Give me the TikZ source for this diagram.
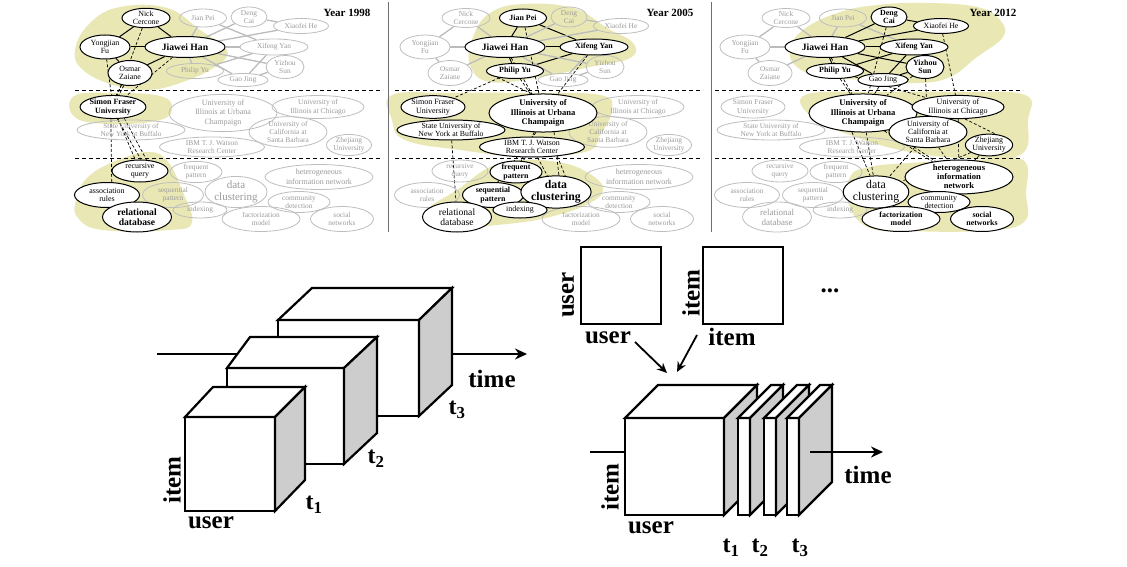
\documentclass[tikz,border=0pt]{standalone}
\usepackage{fontspec}
\setmainfont{Liberation Serif}
\usetikzlibrary{shapes.geometric,arrows.meta}
\pgfdeclarelayer{bg}\pgfdeclarelayer{edges}\pgfdeclarelayer{gray}\pgfdeclarelayer{top}
\pgfsetlayers{main,bg,edges,gray,top}
\definecolor{hl}{RGB}{233,232,180}
\definecolor{gline}{RGB}{190,190,190}
\definecolor{gtxt}{RGB}{155,155,155}
\definecolor{gedgec}{RGB}{188,188,188}
\definecolor{sidec}{RGB}{205,205,205}
\definecolor{sepc}{RGB}{110,110,110}
\def\fs{7.4}\def\fsb{8.2}
\def\pfx{a-}
\def\hintext{heterogeneous\\information network}
\tikzset{
  sz/.code args={#1/#2}{\def\fs{#1}\def\fsb{#2}},
  hinsz/.style={sz=8/10},
  gn/.style={ellipse, inner sep=0pt, align=center, draw=gline, line width=0.8pt, text=gtxt, font=\fontsize{\fs}{\fsb}\selectfont},
  an/.style={ellipse, inner sep=0pt, align=center, draw=black, line width=1pt, fill=white, text=black,
     font=\pgfmathsetmacro\fsx{\fs*1.07}\fontsize{\fsx}{\fsb}\selectfont},
  ab/.style={an, font=\pgfmathsetmacro\fsx{\fs*1.07}\bfseries\fontsize{\fsx}{\fsb}\selectfont},
  gedge/.style={draw=gedgec, line width=1.3pt},
  bedge/.style={draw=black, line width=1pt},
  dedge/.style={draw=black, line width=0.7pt, dash pattern=on 3pt off 2pt},
  sepdash/.style={draw=black, line width=1pt, dash pattern=on 4pt off 3pt},
  blob/.style={fill=hl, draw=none},
  yearlab/.style={font=\bfseries\fontsize{11}{12}\selectfont},
  cubeline/.style={line width=2.2pt, line join=miter, draw=black},
  tarrow/.style={line width=2pt, -{Stealth[length=12pt,width=11pt]}},
  tline/.style={line width=2pt},
  marrow/.style={line width=1.8pt, -{Stealth[length=10pt,width=9pt]}},
  bigl/.style={font=\bfseries\fontsize{25}{28}\selectfont, inner sep=0pt},
  tlab/.style={font=\bfseries\fontsize{24}{26}\selectfont, inner sep=0pt},
  sq/.style={draw, line width=2pt, minimum width=80pt, minimum height=77pt, inner sep=0pt, fill=white},
}
\newcommand\act[2]{\expandafter\def\csname actX#1\endcsname{#2}}
\newcommand\blk[1]{\expandafter\def\csname edX#1\endcsname{1}}
\newcommand\ND[4]{%
  \expandafter\ifx\csname actX#1\endcsname\relax
    \def\curlayer{gray}\def\curstyle{gn}%
  \else
    \def\curlayer{top}\edef\curstyle{\csname actX#1\endcsname}%
  \fi
  \tikzset{curst/.style/.expand once=\curstyle}%
  \begin{pgfonlayer}{\curlayer}\node[curst,#2] (\pfx#1) at #3 {#4};\end{pgfonlayer}}
\newcommand\E[3]{%
  \expandafter\ifx\csname edX#1\endcsname\relax\def\curst{gedge}\else\def\curst{bedge}\fi
  \tikzset{cure/.style/.expand once=\curst}%
  \draw[cure] (\pfx#2) -- (\pfx#3);}
\newcommand\panel{%
  \ND{nc}{minimum width=48pt,minimum height=19pt}{(146,18)}{Nick\\Cercone}
  \ND{jp}{minimum width=47pt,minimum height=18pt}{(203,18)}{Jian Pei}
  \ND{dc}{minimum width=36pt,minimum height=20pt}{(249,17)}{Deng\\Cai}
  \ND{xh}{minimum width=55pt,minimum height=15pt}{(301,26)}{Xiaofei He}
  \ND{yf}{minimum width=50pt,minimum height=24pt}{(105,47)}{Yongjian\\Fu}
  \ND{jh}{sz=9/10,minimum width=80pt,minimum height=21pt}{(185,47)}{Jiawei Han}
  \ND{xy}{minimum width=68pt,minimum height=16pt}{(274,47)}{Xifeng Yan}
  \ND{oz}{minimum width=44pt,minimum height=25pt}{(130,73)}{Osmar\\Zaiane}
  \ND{py}{minimum width=57pt,minimum height=15pt}{(195,71)}{Philip Yu}
  \ND{ys}{minimum width=38pt,minimum height=23pt}{(285,67)}{Yizhou\\Sun}
  \ND{gj}{minimum width=50pt,minimum height=13pt}{(243,80)}{Gao Jing}
  \ND{sfu}{sz=7.5/9,minimum width=64pt,minimum height=22pt}{(113,107)}{Simon Fraser\\University}
  \ND{uiuc}{sz=8/9.5,minimum width=108pt,minimum height=37pt}{(223,113)}{University of\\Illinois at Urbana\\Champaign}
  \ND{uic}{sz=7.5/9,minimum width=92pt,minimum height=23pt}{(318,107)}{University of\\Illinois at Chicago}
  \ND{suny}{sz=7.3/8.5,minimum width=108pt,minimum height=20pt}{(131,130)}{State University of\\New York at Buffalo}
  \ND{ucsb}{minimum width=78pt,minimum height=30pt}{(288,132)}{University of\\California at\\Santa Barbara}
  \ND{ibm}{minimum width=105pt,minimum height=20pt}{(212,147)}{IBM T. J. Watson\\Research Center}
  \ND{zj}{minimum width=45pt,minimum height=20pt}{(349,145)}{Zhejiang\\University}
  \ND{rq}{minimum width=56pt,minimum height=22pt}{(140,171)}{recursive\\query}
  \ND{fp}{minimum width=52pt,minimum height=20pt}{(196,172)}{frequent\\pattern}
  \ND{hin}{hinsz,minimum width=108pt,minimum height=25pt}{(319,177)}{\hintext}
  \ND{ar}{minimum width=65pt,minimum height=25pt}{(107,195)}{association\\rules}
  \ND{sp}{minimum width=61pt,minimum height=25pt}{(173,195)}{sequential\\pattern}
  \ND{dcl}{sz=11/12,minimum width=62pt,minimum height=30pt}{(236,192)}{data\\clustering}
  \ND{cd}{minimum width=62pt,minimum height=21pt}{(299,202)}{community\\detection}
  \ND{rd}{sz=9/10,minimum width=69pt,minimum height=30pt}{(137,217)}{relational\\database}
  \ND{idx}{minimum width=54pt,minimum height=16pt}{(200,210)}{indexing}
  \ND{fm}{minimum width=78pt,minimum height=25pt}{(261,219)}{factorization\\model}
  \ND{sn}{minimum width=63pt,minimum height=25pt}{(342,219)}{social\\networks}
  \begin{pgfonlayer}{edges}
  \E{ncyf}{nc}{yf}\E{ncjh}{nc}{jh}\E{yfjh}{yf}{jh}\E{yfoz}{yf}{oz}\E{ozjh}{oz}{jh}
  \E{jpjh}{jp}{jh}\E{jpxy}{jp}{xy}\E{jhxy}{jh}{xy}\E{jhpy}{jh}{py}\E{pyxy}{py}{xy}
  \E{jhdc}{jh}{dc}\E{jhxh}{jh}{xh}\E{dcxh}{dc}{xh}\E{jhys}{jh}{ys}\E{jhgj}{jh}{gj}
  \E{gjxy}{gj}{xy}\E{gjys}{gj}{ys}
  \end{pgfonlayer}
}
\begin{document}
\begin{tikzpicture}[x=1pt,y=-1pt]
\fill[white] (0,0) rectangle (1127,567);
\useasboundingbox (0,0) rectangle (1127,567);
% highlight blobs
\begin{pgfonlayer}{bg}
\fill[blob] plot[smooth cycle, tension=0.7] coordinates {(75,50) (90,23) (120,7) (167,8) (200,30) (227,50) (215,67) (180,83) (147,90) (113,85) (83,70)};
\fill[blob] plot[smooth cycle, tension=0.7] coordinates {(74,96) (115,93) (160,96) (172,108) (160,120) (115,124) (76,118)};
\fill[blob] plot[smooth cycle, tension=0.7] coordinates {(76,200) (88,177) (118,160) (150,152) (168,162) (182,190) (192,222) (170,230) (103,230) (78,218)};
\fill[blob] plot[smooth cycle, tension=0.7] coordinates {(473,37) (490,13) (523,4) (573,8) (607,28) (633,43) (630,58) (590,67) (540,77) (490,82) (470,65)};
\fill[blob] plot[smooth cycle, tension=0.7] coordinates {(392,95) (450,93) (530,93) (600,95) (612,110) (600,135) (585,152) (520,156) (460,150) (405,140) (392,120)};
\fill[blob] plot[smooth cycle, tension=0.7] coordinates {(430,207) (457,190) (490,167) (523,160) (557,162) (583,170) (603,187) (590,203) (550,217) (507,224) (457,227) (427,220)};
\fill[blob] plot[smooth cycle, tension=0.7] coordinates {(790,50) (803,30) (837,13) (877,5) (927,3) (977,7) (1000,20) (1003,37) (977,57) (950,77) (917,83) (870,80) (823,77) (797,67)};
\fill[blob] plot[smooth cycle, tension=0.7] coordinates {(805,95) (880,92) (960,92) (1025,95) (1028,120) (1020,155) (960,158) (900,150) (850,135) (815,120)};
\fill[blob] plot[smooth cycle, tension=0.7] coordinates {(850,177) (870,167) (910,163) (977,160) (1023,160) (1026,193) (1023,223) (977,231) (910,231) (870,228) (850,207)};
\end{pgfonlayer}
% separators
\begin{pgfonlayer}{edges}
\draw[sepc, line width=1.5pt] (388.5,2) -- (388.5,232);
\draw[sepc, line width=1.5pt] (711.5,2) -- (711.5,232);
\foreach \dx in {0,320,640}{
  \draw[sepdash] (75+\dx,90.5) -- (383+\dx,90.5);
  \draw[sepdash] (75+\dx,159) -- (383+\dx,159);
}
\end{pgfonlayer}
% ---------- panel 1998
\begin{scope}
\def\pfx{a-}
\act{nc}{an}\act{yf}{an}\act{jh}{ab}\act{oz}{an}\act{sfu}{ab}\act{rq}{an}\act{ar}{an}\act{rd}{ab}
\blk{ncyf}\blk{ncjh}\blk{yfjh}\blk{yfoz}\blk{ozjh}
\panel
\begin{pgfonlayer}{top}\node[yearlab] (yr1) at (347,13) {Year 1998};\end{pgfonlayer}
\begin{pgfonlayer}{edges}
\draw[dedge] (a-nc) -- (a-sfu);
\draw[dedge] (a-jh) -- (a-sfu);
\draw[dedge] (a-oz) -- (a-sfu);
\draw[dedge] (a-oz.235) -- (a-sfu.75);
\draw[dedge] (a-yf) -- (a-sfu);
\draw[dedge] (a-sfu) -- (a-rq);
\draw[dedge] (a-sfu.-45) -- (a-rq.60);
\draw[dedge] (a-sfu.-70) -- (a-rq.85);
\draw[dedge] (a-sfu.-100) -- (a-ar.70);
\end{pgfonlayer}
\end{scope}
% ---------- panel 2005
\begin{scope}[xshift=320pt]
\def\pfx{b-}
\act{jp}{ab}\act{jh}{ab}\act{xy}{ab}\act{py}{ab}
\act{sfu}{an}\act{uiuc}{ab}\act{suny}{an}\act{ibm}{an}
\act{fp}{ab}\act{sp}{ab}\act{dcl}{ab}\act{rd}{an}\act{idx}{an}
\blk{jpjh}\blk{jpxy}\blk{jhxy}\blk{jhpy}\blk{pyxy}
\panel
\begin{pgfonlayer}{top}\node[yearlab] (yr2) at (350,13) {Year 2005};\end{pgfonlayer}
\begin{pgfonlayer}{edges}
\draw[dedge] (b-jp) -- (b-uiuc);
\draw[dedge] (b-jh) -- (b-uiuc);
\draw[dedge] (b-py) -- (b-uiuc);
\draw[dedge] (b-py.200) -- (b-uiuc.120);
\draw[dedge] (b-py) -- (b-sfu);
\draw[dedge] (b-xy) -- (b-uiuc);
\draw[dedge] (b-suny) -- (b-rd);
\draw[dedge] (b-uiuc) -- (b-fp);
\draw[dedge] (b-ibm) -- (b-fp);
\draw[dedge] (b-uiuc.-60) -- (b-dcl.80);
\draw[dedge] (b-ibm) -- (b-dcl);
\draw[dedge] (b-ibm.-20) -- (b-dcl.60);
\draw[dedge] (b-uiuc.-110) -- (b-sp.70);
\end{pgfonlayer}
\end{scope}
% ---------- panel 2012
\begin{scope}[xshift=640pt]
\def\pfx{c-}
\def\hintext{heterogeneous\\information\\network}
\tikzset{hinsz/.style={sz=8/9}}
\act{dc}{ab}\act{xh}{an}\act{jh}{ab}\act{xy}{ab}\act{py}{ab}\act{ys}{ab}\act{gj}{an}
\act{uiuc}{ab}\act{uic}{an}\act{ucsb}{an}\act{zj}{an}
\act{hin}{ab}\act{dcl}{an}\act{cd}{an}\act{fm}{ab}\act{sn}{ab}
\blk{jhxy}\blk{jhpy}\blk{pyxy}\blk{jhdc}\blk{jhxh}\blk{dcxh}\blk{jhys}\blk{jhgj}\blk{gjxy}\blk{gjys}
\panel
\begin{pgfonlayer}{top}\node[yearlab] (yr3) at (353,13) {Year 2012};\end{pgfonlayer}
\begin{pgfonlayer}{edges}
\draw[dedge] (c-py) -- (c-uiuc);
\draw[dedge] (c-jh) -- (c-uiuc);
\draw[dedge] (c-gj) -- (c-uiuc);
\draw[dedge] (c-ys) -- (c-uiuc);
\draw[dedge] (c-dc) -- (c-uiuc);
\draw[dedge] (c-xh) -- (c-uic);
\draw[dedge] (c-py) -- (c-uic);
\draw[dedge] (c-ys) -- (c-ucsb);
\draw[dedge] (c-uiuc) -- (c-dcl);
\draw[dedge] (c-uiuc.-120) -- (c-dcl.110);
\draw[dedge] (c-uiuc) -- (c-hin);
\draw[dedge] (c-uiuc.-40) -- (c-hin.150);
\draw[dedge] (c-ucsb) -- (c-hin);
\draw[dedge] (c-ucsb) -- (c-dcl);
\draw[dedge] (c-uic) -- (c-hin);
\draw[dedge] (c-zj) -- (c-hin);
\draw[dedge] (c-zj) -- (c-dcl);
\draw[dedge] (c-uic.-60) -- (c-zj.60);
\end{pgfonlayer}
\end{scope}
% ================= bottom left: cubes along time
\coordinate (tl0) at (157,354);
\coordinate (tl1) at (527,354);
\draw[tarrow] (tl0) -- (tl1);
% cube 3
\draw[cubeline, fill=white] (278,320) -- (419,320) -- (419,416) -- (278,416) -- cycle;
\draw[cubeline, fill=white] (278,320) -- (312,288) -- (452,288) -- (419,320) -- cycle;
\draw[cubeline, fill=sidec] (419,320) -- (452,288) -- (452,385) -- (419,416) -- cycle;
% cube 2
\draw[cubeline, fill=white] (227,368) -- (344,368) -- (344,464) -- (227,464) -- cycle;
\draw[cubeline, fill=white] (227,368) -- (250,337) -- (377,337) -- (344,368) -- cycle;
\draw[cubeline, fill=sidec] (344,368) -- (377,337) -- (377,433) -- (344,464) -- cycle;
% cube 1
\draw[cubeline, fill=white] (185,417) -- (275,417) -- (275,511) -- (185,511) -- cycle;
\draw[cubeline, fill=white] (185,417) -- (213,387) -- (305,387) -- (275,417) -- cycle;
\draw[cubeline, fill=sidec] (275,417) -- (305,387) -- (305,480) -- (275,511) -- cycle;
\node[bigl] (tm1) at (492,379) {time};
\node[tlab] (lt1) at (314,505) {t\textsubscript{1}};
\node[tlab] (lt2) at (376,459) {t\textsubscript{2}};
\node[tlab] (lt3) at (457,410) {t\textsubscript{3}};
\node[bigl, rotate=90] (it1) at (172,480) {item};
\node[bigl] (us1) at (211,523) {user};
% ================= bottom right
\node[sq] (m1) at (621,285.5) {};
\node[sq] (m2) at (743,285.5) {};
\node[bigl, rotate=90] (mu1) at (568,295) {user};
\node[bigl] (mu2) at (608,338) {user};
\node[bigl, rotate=90] (mi1) at (691,293) {item};
\node[bigl] (mi2) at (732,337) {item};
\node[bigl] (dots) at (830,291) {...};
\coordinate (ua0) at (635,342); \coordinate (ua1) at (667,373);
\coordinate (ia0) at (697,335); \coordinate (ia1) at (677,372);
\draw[marrow] (ua0) -- (ua1);
\draw[marrow] (ia0) -- (ia1);
\coordinate (tr0) at (590,452); \coordinate (tr1) at (625,452);
\draw[tline] (tr0) -- (tr1);
% big cube
\draw[cubeline, fill=white] (625,418) -- (724,418) -- (724,515) -- (625,515) -- cycle;
\draw[cubeline, fill=white] (625,418) -- (658,385) -- (757,385) -- (724,418) -- cycle;
\draw[cubeline, fill=sidec] (724,418) -- (757,385) -- (757,482) -- (724,515) -- cycle;
% slabs
\foreach \xs in {738,764,787}{
  \draw[cubeline, fill=white] (\xs,418) -- (\xs+12,418) -- (\xs+12,515) -- (\xs,515) -- cycle;
  \draw[cubeline, fill=white] (\xs,418) -- (\xs+33,385) -- (\xs+45,385) -- (\xs+12,418) -- cycle;
  \draw[cubeline, fill=sidec] (\xs+12,418) -- (\xs+45,385) -- (\xs+45,482) -- (\xs+12,515) -- cycle;
}
\coordinate (tr2) at (810,452); \coordinate (tr3) at (883,452);
\draw[tarrow] (tr2) -- (tr3);
\node[bigl] (tm2) at (868,475) {time};
\node[bigl, rotate=90] (it2) at (610,487) {item};
\node[bigl] (us2) at (651,528) {user};
\node[tlab] (rt1) at (731,548) {t\textsubscript{1}};
\node[tlab] (rt2) at (760,548) {t\textsubscript{2}};
\node[tlab] (rt3) at (800,548) {t\textsubscript{3}};
\end{tikzpicture}
\end{document}
